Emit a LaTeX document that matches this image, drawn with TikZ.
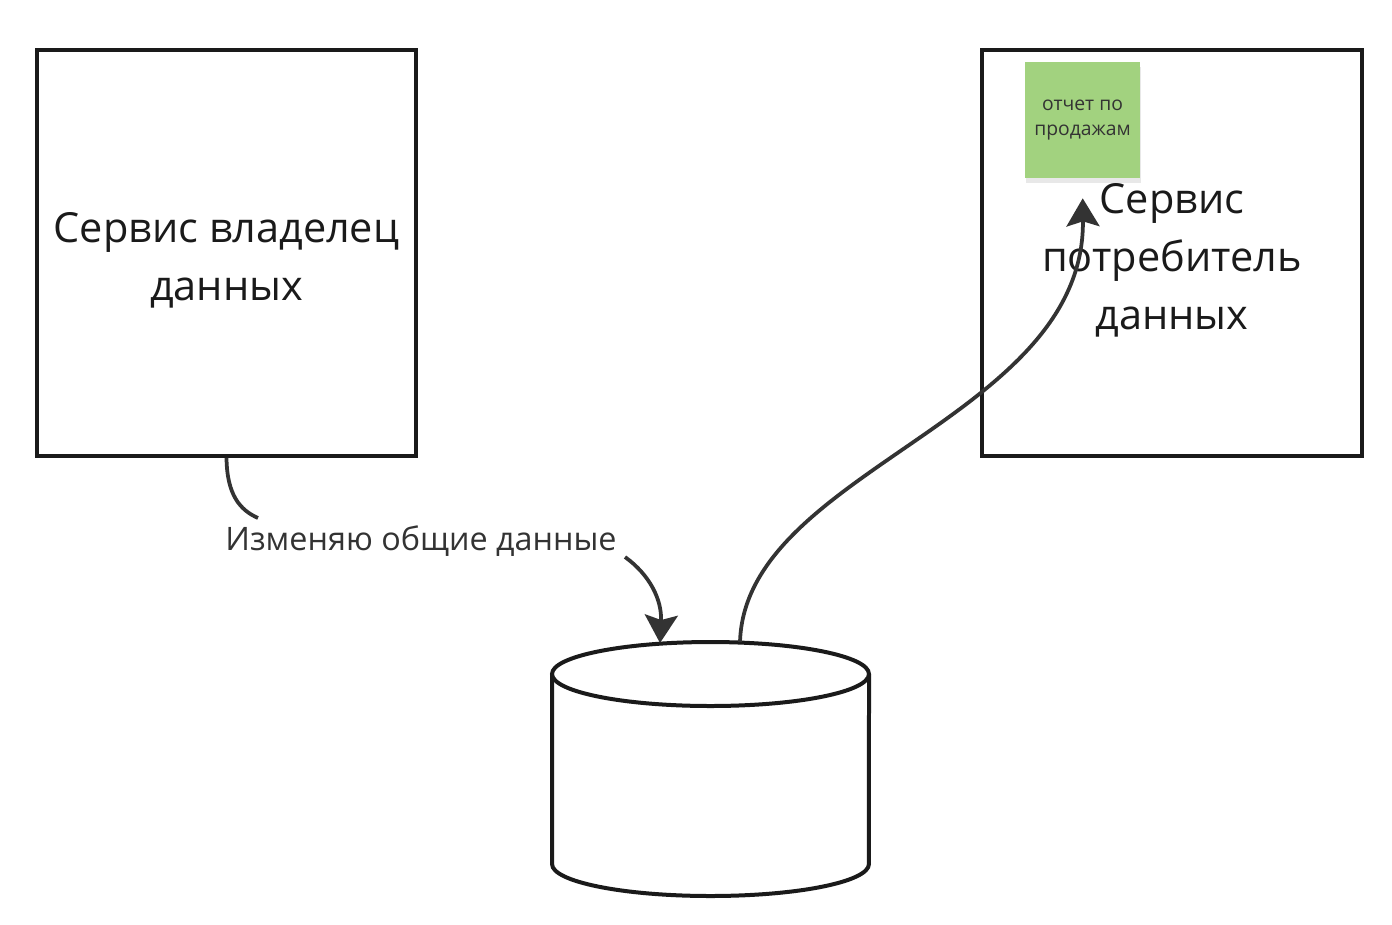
\documentclass[tikz,border=0pt]{standalone}
\usepackage{fontspec}
\setmainfont{Open Sans}
\usetikzlibrary{arrows.meta,shadows}

\begin{document}
\begin{tikzpicture}[x=0.02cm,y=-0.02cm]

\definecolor{inkline}{RGB}{26,26,26}
\definecolor{arrowgray}{RGB}{51,51,51}
\definecolor{stickygreen}{RGB}{162,210,127}

% Canvas
\useasboundingbox (0,0) rectangle (1392,924);
\fill[white] (0,0) rectangle (1392,924);

\tikzset{
    service/.style={
        draw=inkline, line width=0.08cm, fill=white,
        rectangle, minimum width=7.6cm, minimum height=8.12cm,
        inner sep=0pt, text=inkline, align=center,
        font=\fontsize{23.6}{33}\selectfont
    },
    sticky/.style={
        fill=stickygreen, rectangle,
        minimum width=2.3cm, minimum height=2.32cm,
        inner sep=0pt, text=arrowgray, align=center,
        font=\fontsize{11}{14.2}\selectfont,
        drop shadow={shadow xshift=0.02cm, shadow yshift=-0.1cm, opacity=0.18}
    },
    flowtext/.style={
        inner sep=0pt, text=arrowgray,
        font=\fontsize{18.4}{22}\selectfont
    },
    flow/.style={
        draw=arrowgray, line width=0.075cm,
        -{Stealth[length=0.56cm, width=0.66cm, inset=0.1cm]}
    }
}

% --- SERVICES ---
\node[service] (owner) at (226.5,253) {\rule{0pt}{0.88cm}Сервис владелец\\данных};
\node[service] (consumer) at (1172,253) {\rule{0pt}{0.88cm}Сервис\\потребитель\\данных};
\node[sticky] (note) at (1082.5,120) {отчет по\\продажам};

% --- SHARED DATABASE ---
\draw[draw=inkline, line width=0.08cm, fill=white]
    (552,674) -- (552,864)
    arc[start angle=180, end angle=360, x radius=3.17cm, y radius=0.64cm]
    -- (869,674);
\draw[draw=inkline, line width=0.08cm, fill=white]
    (710.5,674) ellipse [x radius=3.17cm, y radius=0.64cm];
\coordinate (dbin) at (660,643);
\coordinate (dbout) at (740,642);

% --- FLOWS ---
\node[flowtext] (change) at (421,541) {Изменяю общие данные};
\coordinate (changein) at (258,518);
\coordinate (changeout) at (625,557);

\draw[flow, -] (owner.south) .. controls (227,495) and (240,510) .. (changein);
\draw[flow] (changeout) .. controls (650,575) and (662,600) .. (dbin);
\draw[flow, shorten >=0.4cm] (dbout) .. controls (745,470) and (1085,420) .. (note.south);

\end{tikzpicture}
\end{document}
